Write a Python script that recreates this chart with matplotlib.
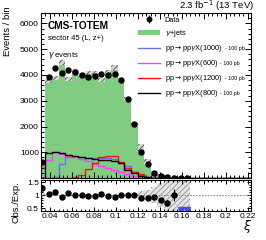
import numpy as np
import matplotlib
matplotlib.use('Agg')
import matplotlib.pyplot as plt
from matplotlib.lines import Line2D
from matplotlib.patches import Patch
from matplotlib.ticker import MultipleLocator, FuncFormatter

plt.rcParams['font.family'] = ['Liberation Sans', 'DejaVu Sans']
plt.rcParams['hatch.linewidth'] = 0.5

# ---- binning (xi) ----
bin_lo, bin_w, n_bins = 0.03, 0.006, 32

# ---- data (events / bin) ----
data = [630, 3910, 4260, 4080, 4210, 4100, 3990, 3940, 3960, 4020, 3990, 4020,
        3800, 3060, 2080, 1010, 550, 200, 80, 40, 20, 4, 2,
        0, 0, 0, 0, 0, 0, 0, 0, 0]
mc = [500, 3760, 3870, 4480, 3830, 4150, 3990, 4060, 4080, 3790, 4110, 4280,
      3800, 3060, 2080, 1150, 610, 220, 100, 58, 20, 15, 10,
      0, 0, 0, 0, 0, 0, 0, 0, 0]
mc_err = [35, 80, 80, 85, 80, 85, 80, 80, 80, 80, 85, 90,
          80, 75, 70, 160, 115, 66, 45, 60, 25, 20, 12,
          0, 0, 0, 0, 0, 0, 0, 0, 0]
sig_1000 = [0, 0, 40, 550, 820, 830, 810, 790, 780, 770, 760, 740,
            600, 450, 250, 120, 50, 0, 0, 0, 0, 0, 0, 0, 0, 0, 0, 0, 0, 0, 0, 0]
sig_600 = [440, 700, 1000, 950, 860, 800, 750, 650, 560, 460, 400, 330,
           250, 150, 80, 40, 0, 0, 0, 0, 0, 0, 0, 0, 0, 0, 0, 0, 0, 0, 0, 0]
sig_1200 = [0, 0, 0, 0, 0, 30, 120, 370, 600, 820, 850, 860,
            640, 390, 250, 150, 60, 20, 0, 0, 0, 0, 0, 0, 0, 0, 0, 0, 0, 0, 0, 0]
sig_800 = [0, 980, 1000, 960, 900, 860, 820, 780, 750, 720, 700, 650,
           580, 310, 200, 100, 40, 0, 0, 0, 0, 0, 0, 0, 0, 0, 0, 0, 0, 0, 0, 0]

legend_labels = ['Data', r'$\gamma$+jets', r'pp$\rightarrow$pp$\gamma$X(1000)',
                 r'pp$\rightarrow$pp$\gamma$X(600)', r'pp$\rightarrow$pp$\gamma$X(1200)',
                 r'pp$\rightarrow$pp$\gamma$X(800)']
xsec_label = '- 100 pb'

data = np.array(data, float)
mc = np.array(mc, float)
mc_err = np.array(mc_err, float)
edges = np.round(bin_lo + bin_w * np.arange(n_bins + 1), 4)
centers = 0.5 * (edges[:-1] + edges[1:])

green = '#80cc80'
c_blue, c_mag, c_red, c_blk = '#6f6fe8', '#ff40ff', '#ff1010', '#000000'

fig = plt.figure(figsize=(2.66, 2.4), dpi=100)
ax = fig.add_axes([0.154, 0.258, 0.789, 0.6875])
rax = fig.add_axes([0.154, 0.122, 0.789, 0.128])

# main panel
ax.stairs(mc, edges, fill=True, color=green, lw=0)
m = mc > 0
ax.bar(centers[m], 2 * mc_err[m], bottom=mc[m] - mc_err[m], width=bin_w,
       facecolor='#d8d8d8', edgecolor='#333333', hatch='//////', lw=0)
for sig, c in [(sig_1000, c_blue), (sig_600, c_mag), (sig_1200, c_red), (sig_800, c_blk)]:
    ax.stairs(sig, edges, color=c, lw=1.0)
d = data > 0
ax.errorbar(centers[d], data[d], yerr=np.sqrt(data[d]), fmt='o', ms=3.6,
            color='k', elinewidth=0.8, capsize=0)

ax.set_xlim(0.032, 0.223)
ax.set_ylim(0, 6400)
ax.xaxis.set_major_locator(MultipleLocator(0.02))
ax.xaxis.set_minor_locator(MultipleLocator(0.004))
ax.yaxis.set_major_locator(MultipleLocator(1000))
ax.yaxis.set_minor_locator(MultipleLocator(200))
ax.yaxis.set_major_formatter(FuncFormatter(lambda v, p: '' if v == 0 else f'{v:g}'))
ax.tick_params(which='both', direction='in', top=True, right=True,
               labelbottom=False, labelsize=6, pad=1.5, width=0.7)
ax.tick_params(which='major', length=4)
ax.tick_params(which='minor', length=2)

# legend
data_handle = (Line2D([], [], marker='|', color='k', ms=6, mew=0.8, ls='none'),
               Line2D([], [], marker='o', color='k', ms=3.2, ls='none'))
handles = [data_handle,
           Patch(facecolor=green, edgecolor='none'),
           Line2D([], [], color=c_blue, lw=1.0),
           Line2D([], [], color=c_mag, lw=1.0),
           Line2D([], [], color=c_red, lw=1.0),
           Line2D([], [], color=c_blk, lw=1.0)]
leg = ax.legend(handles, legend_labels, loc='upper left', bbox_to_anchor=(0.45, 0.995),
                frameon=False, fontsize=5.3, handlelength=3.0, handletextpad=0.6,
                labelspacing=0.55, borderaxespad=0)

ax.text(0.033, 0.955, 'CMS-TOTEM', transform=ax.transAxes, fontsize=7.3,
        fontweight='bold', va='top')
ax.text(0.033, 0.865, 'sector 45 (L, z+)', transform=ax.transAxes, fontsize=5.5, va='top')
ax.text(0.033, 0.775, r'$\gamma$ events', transform=ax.transAxes, fontsize=5.5, va='top')

fig.text(0.953, 0.975, r'2.3 fb$^{-1}$ (13 TeV)', ha='right', va='center', fontsize=6.8)
fig.text(0.028, 0.975, 'Events / bin', rotation=90, ha='center', va='top', fontsize=6.8)

# ratio panel
valid = (mc > 0) & (data > 0)
ratio = np.where(valid, data / np.where(mc > 0, mc, 1), np.nan)
rerr = np.where(valid, np.sqrt(data) / np.where(mc > 0, mc, 1), np.nan)
rel = np.where(m, mc_err / np.where(mc > 0, mc, 1), 0)
rax.bar(centers[m], 2 * rel[m], bottom=1 - rel[m], width=bin_w,
        facecolor='#e4e4e4', edgecolor='#888888', hatch='//////', lw=0)
rax.axhline(1.0, color='#777777', lw=0.6, ls=(0, (2, 1.5)))
r_lo, r_hi = 0.4, 1.58
inr = valid & (ratio >= r_lo)
rax.errorbar(centers[inr], ratio[inr], yerr=rerr[inr], fmt='o', ms=3.6,
             color='k', elinewidth=0.8, capsize=0)
below = valid & (ratio < r_lo)
rax.plot(centers[below], np.full(below.sum(), r_lo + 0.04), 'v', color='#4b4be6', ms=3.8)

rax.set_xlim(0.032, 0.223)
rax.set_ylim(r_lo, r_hi)
rax.xaxis.set_major_locator(MultipleLocator(0.02))
rax.xaxis.set_minor_locator(MultipleLocator(0.004))
rax.yaxis.set_major_locator(MultipleLocator(0.5))
rax.yaxis.set_minor_locator(MultipleLocator(0.1))
rax.xaxis.set_major_formatter(FuncFormatter(lambda v, p: f'{v:g}'))
rax.yaxis.set_major_formatter(FuncFormatter(lambda v, p: f'{v:g}'))
rax.tick_params(which='both', direction='in', top=True, right=True,
                labelsize=6, pad=1.5, width=0.7)
rax.tick_params(which='major', length=3)
rax.tick_params(which='minor', length=1.5)

fig.text(0.062, 0.245, 'Obs./Exp.', rotation=90, ha='center', va='top', fontsize=6.8)
fig.text(0.93, 0.055, r'$\xi$', ha='center', va='center', fontsize=9)

for a in (ax, rax):
    for s in a.spines.values():
        s.set_linewidth(0.8)

# small cross-section suffix after each signal legend entry
fig.canvas.draw()
inv = fig.transFigure.inverted()
for t in leg.get_texts()[2:]:
    bb = t.get_window_extent()
    x0, y0 = inv.transform((bb.x1 + 2.0, bb.y0 + 0.3 * bb.height))
    fig.text(x0, y0, xsec_label, fontsize=3.8, ha='left', va='bottom')

fig.savefig('out.png', dpi=100)
